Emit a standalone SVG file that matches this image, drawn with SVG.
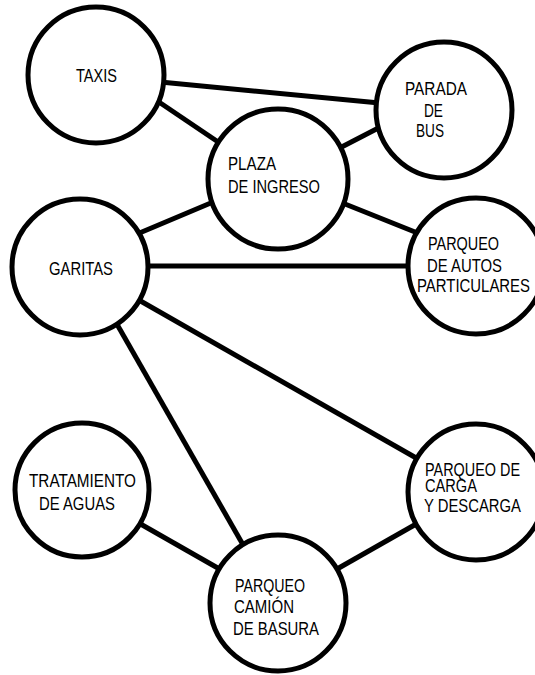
<svg xmlns="http://www.w3.org/2000/svg" width="535" height="675" viewBox="0 0 535 675">
<style>
.edge{stroke:#000;stroke-width:5;stroke-linecap:butt;fill:none}
.node{fill:#fff;stroke:#000;stroke-width:5}
.lbl{font-family:"Liberation Sans Narrow","Liberation Sans",Arial,sans-serif;font-size:19px;fill:#000}
</style>
<rect width="535" height="675" fill="#fff"/>
<g id="connectors">
<line class="edge" x1="150" y1="81" x2="390" y2="104"/>
<line class="edge" x1="150" y1="96" x2="230" y2="150"/>
<line class="edge" x1="330" y1="153" x2="390" y2="122"/>
<line class="edge" x1="130" y1="237" x2="225" y2="197"/>
<line class="edge" x1="330" y1="198" x2="425" y2="236"/>
<line class="edge" x1="140" y1="266" x2="415" y2="266"/>
<line class="edge" x1="130" y1="295" x2="425" y2="463"/>
<line class="edge" x1="110" y1="312" x2="250" y2="557"/>
<line class="edge" x1="130" y1="518" x2="230" y2="575"/>
<line class="edge" x1="330" y1="573" x2="425" y2="519"/>
</g>
<g id="taxis">
<circle class="node" cx="96" cy="75" r="68"/>
<text class="lbl" x="76" y="82" textLength="41" lengthAdjust="spacingAndGlyphs">TAXIS</text>
</g>
<g id="parada-bus">
<circle class="node" cx="444" cy="110" r="68"/>
<text class="lbl" x="405" y="95" textLength="62" lengthAdjust="spacingAndGlyphs">PARADA</text>
<text class="lbl" x="424" y="117" textLength="19" lengthAdjust="spacingAndGlyphs">DE</text>
<text class="lbl" x="416" y="137" textLength="28" lengthAdjust="spacingAndGlyphs">BUS</text>
</g>
<g id="plaza-ingreso">
<circle class="node" cx="278" cy="179" r="70"/>
<text class="lbl" x="228" y="170" textLength="48" lengthAdjust="spacingAndGlyphs">PLAZA</text>
<text class="lbl" x="228" y="193" textLength="92" lengthAdjust="spacingAndGlyphs">DE INGRESO</text>
</g>
<g id="garitas">
<circle class="node" cx="80" cy="267" r="68"/>
<text class="lbl" x="49" y="275" textLength="64" lengthAdjust="spacingAndGlyphs">GARITAS</text>
</g>
<g id="parqueo-autos">
<circle class="node" cx="476" cy="266" r="68"/>
<text class="lbl" x="428" y="250" textLength="71" lengthAdjust="spacingAndGlyphs">PARQUEO</text>
<text class="lbl" x="427" y="272" textLength="75" lengthAdjust="spacingAndGlyphs">DE AUTOS</text>
<text class="lbl" x="417" y="292" textLength="113" lengthAdjust="spacingAndGlyphs">PARTICULARES</text>
</g>
<g id="tratamiento-aguas">
<circle class="node" cx="82" cy="490" r="67"/>
<text class="lbl" x="29" y="487" textLength="107" lengthAdjust="spacingAndGlyphs">TRATAMIENTO</text>
<text class="lbl" x="39" y="510" textLength="76" lengthAdjust="spacingAndGlyphs">DE AGUAS</text>
</g>
<g id="parqueo-carga">
<circle class="node" cx="476" cy="492" r="68"/>
<text class="lbl" x="425" y="476" textLength="95" lengthAdjust="spacingAndGlyphs">PARQUEO DE</text>
<text class="lbl" x="425" y="492" textLength="52" lengthAdjust="spacingAndGlyphs">CARGA</text>
<text class="lbl" x="424" y="512" textLength="97" lengthAdjust="spacingAndGlyphs">Y DESCARGA</text>
</g>
<g id="parqueo-camion">
<circle class="node" cx="278" cy="603" r="68"/>
<text class="lbl" x="235" y="592" textLength="70" lengthAdjust="spacingAndGlyphs">PARQUEO</text>
<text class="lbl" x="234" y="613" textLength="60" lengthAdjust="spacingAndGlyphs">CAMIÓN</text>
<text class="lbl" x="233" y="635" textLength="86" lengthAdjust="spacingAndGlyphs">DE BASURA</text>
</g>
</svg>
